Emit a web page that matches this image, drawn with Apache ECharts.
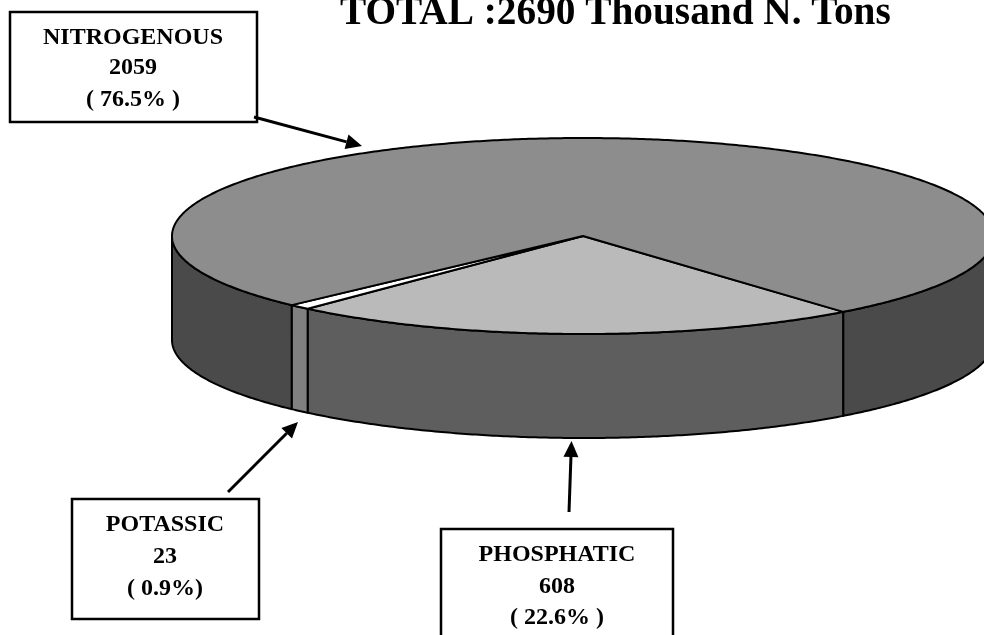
<!DOCTYPE html>
<html><head><meta charset="utf-8">
<style>html,body{margin:0;padding:0;background:#fff}#c{width:984px;height:635px}</style>
<script src="https://cdn.jsdelivr.net/npm/echarts@6/dist/echarts.min.js"></script>
</head><body><div id="c"></div>
<script>
// Data
var categories = ['PHOSPHATIC', 'POTASSIC', 'NITROGENOUS'];
var values = [608, 23, 2059];
var percentTexts = ['( 22.6% )', '( 0.9%)', '( 76.5% )'];
var titleText = 'TOTAL :2690 Thousand N. Tons';

// Style and layout
var topColors = ['#bababa', '#ffffff', '#8d8d8d'];
var sideColors = ['#5e5e5e', '#808080', '#4a4a4a'];
var geo = {cx: 583, cy: 236, rx: 411, ry: 98, depth: 104, start: 50.7};
var boxes = [
  {x: 441, y: 529, w: 232, h: 120, tx: 557, ty: [555, 587, 618]},
  {x: 72, y: 499, w: 187, h: 120, tx: 165, ty: [525, 557, 589]},
  {x: 10, y: 12, w: 247, h: 110, tx: 133, ty: [38, 68, 100]}
];
var arrows = [
  {from: [569, 512], to: [571.5, 441]},
  {from: [228, 492], to: [298, 422]},
  {from: [254, 117], to: [362, 146]}
];
var total = values.reduce(function (a, b) { return a + b; }, 0);

function pt(deg, dy) {
  var r = deg * Math.PI / 180;
  return [geo.cx + geo.rx * Math.cos(r), geo.cy + geo.ry * Math.sin(r) + (dy || 0)];
}
function arc(a, b, dy) {
  var out = [], n = Math.max(2, Math.ceil(Math.abs(b - a) * 2));
  for (var i = 0; i <= n; i++) out.push(pt(a + (b - a) * i / n, dy));
  return out;
}
function wall(a, b, color) {
  var pts = arc(a, b, 0).concat(arc(b, a, geo.depth));
  return {type: 'polygon', shape: {points: pts},
    style: {fill: color, stroke: '#000', lineWidth: 2, lineJoin: 'round'}};
}
function renderSlice(params, api) {
  var i = params.dataIndex, before = 0;
  for (var k = 0; k < i; k++) before += values[k];
  var a = geo.start + before / total * 360;
  var b = a + api.value(0) / total * 360;
  var children = [];
  // visible rim: parts of the slice with angle in [0, 180] or [360, 540]
  [[0, 180], [360, 540]].forEach(function (w) {
    var s = Math.max(a, w[0]), e = Math.min(b, w[1]);
    if (e > s) children.push(wall(s, e, sideColors[i]));
  });
  children.push({type: 'polygon', shape: {points: [[geo.cx, geo.cy]].concat(arc(a, b, 0))},
    style: {fill: topColors[i], stroke: '#000', lineWidth: 2, lineJoin: 'round'}});
  return {type: 'group', children: children};
}

var graphics = [];
var FONT = '"Liberation Serif","Times New Roman",serif';
categories.forEach(function (name, i) {
  var b = boxes[i], lines = [name, String(values[i]), percentTexts[i]];
  graphics.push({type: 'rect', shape: {x: b.x, y: b.y, width: b.w, height: b.h},
    style: {fill: '#fff', stroke: '#000', lineWidth: 2.5}, z: 10});
  lines.forEach(function (t, j) {
    graphics.push({type: 'text', x: b.tx, y: b.ty[j], z: 11,
      style: {text: t, fill: '#000', font: 'bold 24px ' + FONT, align: 'center', verticalAlign: 'middle'}});
  });
  var A = arrows[i], dx = A.to[0] - A.from[0], dy = A.to[1] - A.from[1], L = Math.hypot(dx, dy);
  var ux = dx / L, uy = dy / L, hl = 16, hw = 7.5;
  var bx = A.to[0] - ux * hl, by = A.to[1] - uy * hl;
  graphics.push({type: 'line', z: 12, shape: {x1: A.from[0], y1: A.from[1], x2: bx, y2: by},
    style: {stroke: '#000', lineWidth: 3}});
  graphics.push({type: 'polygon', z: 12, shape: {points: [A.to,
      [bx - uy * hw, by + ux * hw], [bx + uy * hw, by - ux * hw]]}, style: {fill: '#000'}});
});

var chart = echarts.init(document.getElementById('c'), null, {renderer: 'canvas'});
chart.setOption({
  animation: false,
  backgroundColor: '#fff',
  title: {text: titleText, left: 340, top: -6, padding: 0,
    textStyle: {fontFamily: FONT, fontWeight: 'bold', fontSize: 39.3, color: '#000'}},
  series: [{
    type: 'custom', coordinateSystem: 'none', silent: true,
    renderItem: renderSlice,
    data: values.map(function (v, i) { return {name: categories[i], value: [v]}; })
  }],
  graphic: {elements: graphics}
});
</script></body></html>
